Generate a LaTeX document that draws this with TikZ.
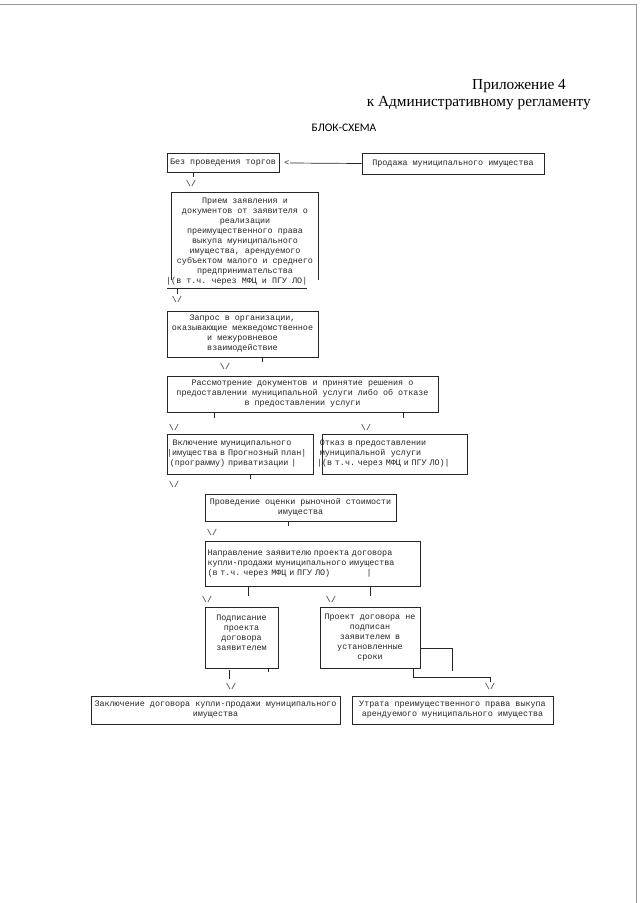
\documentclass[tikz,border=0pt]{standalone}
\usepackage{fontspec}
\setmainfont{Liberation Serif}
\newfontfamily\monofont[WordSpace={1,0,0},PunctuationSpace=WordSpace]{Liberation Mono}
\newfontfamily\calfont{Carlito}
\frenchspacing
\begin{document}
\begin{tikzpicture}[x=1pt,y=-1pt,
  mono/.style={font=\monofont\fontsize{8.4}{10}\selectfont\frenchspacing, text=black!85},
  box/.style={mono, draw=black!85, line width=0.7pt, inner sep=0pt, align=center},
  vmark/.style={mono, inner sep=0.5pt},
  link/.style={draw=black!85, line width=0.7pt},
  scan/.style={draw=black!40, line width=0.8pt}]
\useasboundingbox (0,0) rectangle (640,903);
\fill[white] (0,0) rectangle (640,903);
% scan edges
\draw[scan] (0,4) -- (636,4) -- (636,903);
% header
\node[anchor=base east, inner sep=0, font=\fontsize{15.3}{18}\selectfont] (h1) at (566,89) {Приложение 4};
\node[anchor=base east, inner sep=0, font=\fontsize{15.3}{18}\selectfont] (h2) at (591,106) {к Административному регламенту};
\node[anchor=base, inner sep=0, font=\calfont\fontsize{11.5}{13}\selectfont] (title) at (344,131) {БЛОК-СХЕМА};
% row 1
\node[box, minimum width=112, minimum height=19] (b1) at (223,162.5) {Без проведения торгов};
\node[box, minimum width=182, minimum height=21] (b2) at (453,163.5) {Продажа муниципального имущества};
\node[mono, inner sep=0.5pt] (lt) at (287,163) {<};
\draw[link] (b2.west) -- (lt.east);
\node[vmark] (v1) at (191,183) {\textbackslash/};
\draw[link] (b1.south -| 193,0) -- ++(0,5);
% b3
\node[box, draw=none, minimum width=146, minimum height=87] (b3) at (245,236.5)
  {Прием заявления и\\документов от заявителя о\\реализации\\преимущественного права\\выкупа муниципального\\имущества, арендуемого\\субъектом малого и среднего\\предпринимательства};
\draw[link] (b3.south west) -- (b3.north west) -- (b3.north east) -- (b3.south east);
\node[mono, anchor=west, inner sep=0] (b3x) at (166,281.5) {|(в т.ч. через МФЦ и ПГУ ЛО|};
\draw[link] (167,288) -- (307,288);
\node[vmark] (v2) at (177,299) {\textbackslash/};
\draw[link] (177,288) -- ++(0,6);
% b4
\node[box, minimum width=151, minimum height=46] (b4) at (242.5,334)
  {Запрос в организации,\\оказывающие межведомственное\\и межуровневое\\взаимодействие};
\node[vmark] (v3) at (225,366) {\textbackslash/};
\draw[link] (b4.south -| 262,0) -- ++(0,5);
% b5
\node[box, minimum width=271, minimum height=36] (b5) at (302.5,394)
  {Рассмотрение документов и принятие решения о\\предоставлении муниципальной услуги либо об отказе\\в предоставлении услуги};
\node[vmark] (v4a) at (174,427) {\textbackslash/};
\node[vmark] (v4b) at (366,427) {\textbackslash/};
\draw[link] (b5.south -| 214,0) -- ++(0,6);
\draw[link] (b5.south -| 403,0) -- ++(0,6);
% b6, b7
\node[box, minimum width=146, minimum height=40, align=left, text width=146] (b6) at (240,454)
  {\mbox{}~~Включение муниципального\\|имущества в Прогнозный план|\\\mbox{}~(программу) приватизации~|};
\node[box, draw=none, minimum width=150, minimum height=40, align=left, text width=150] (b7t) at (392,454)
  {\mbox{}~Отказ в предоставлении\\\mbox{}~муниципальной~~услуги\\|(в т.ч. через МФЦ и ПГУ ЛО)|};
\draw[link] (322,434) rectangle (467,474);
\node[vmark] (v5) at (174,484) {\textbackslash/};
\draw[link] (b6.south -| 250,0) -- ++(0,5);
% b8
\node[box, minimum width=191, minimum height=27] (b8) at (300.5,507.5)
  {Проведение оценки рыночной стоимости\\имущества};
\node[vmark] (v6) at (212,532) {\textbackslash/};
\draw[link] (b8.south -| 288,0) -- ++(0,5);
% b9
\node[box, minimum width=215, minimum height=45, align=left, text width=210] (b9) at (312.5,563.5)
  {Направление заявителю проекта договора\\купли-продажи муниципального имущества\\(в т.ч. через МФЦ и ПГУ ЛО)~~~~~~~~~~~~~|};
\node[vmark] (v7a) at (207,599) {\textbackslash/};
\node[vmark] (v7b) at (331,599) {\textbackslash/};
\draw[link] (b9.south -| 248,0) -- ++(0,10);
\draw[link] (b9.south -| 370,0) -- ++(0,10);
% b10, b11
\node[box, minimum width=73, minimum height=61] (b10) at (241.5,637.5)
  {Подписание\\проекта\\договора\\заявителем\\~};
\draw[link] (b10.south -| 268,0) -- ++(0,4);
\node[box, minimum width=100, minimum height=61] (b11) at (370,637.5)
  {Проект договора не\\подписан\\заявителем в\\установленные\\сроки};
\node[vmark] (v8) at (231,686) {\textbackslash/};
\draw[link] (b10.south -| 229,0) ++(0,2) -- ++(0,9);
\coordinate (c11a) at (452,671);
\draw[link] (b11.east |- 0,648) -| (c11a);
\node[vmark] (v9) at (490,686) {\textbackslash/};
\draw[link] (413,669) |- (490,677) -- (v9.north);
% b12, b13
\node[box, minimum width=249, minimum height=28] (b12) at (215.5,710)
  {Заключение договора купли-продажи муниципального\\имущества};
\node[box, minimum width=201, minimum height=28] (b13) at (452.5,710)
  {Утрата преимущественного права выкупа\\арендуемого муниципального имущества};
\end{tikzpicture}
\end{document}
